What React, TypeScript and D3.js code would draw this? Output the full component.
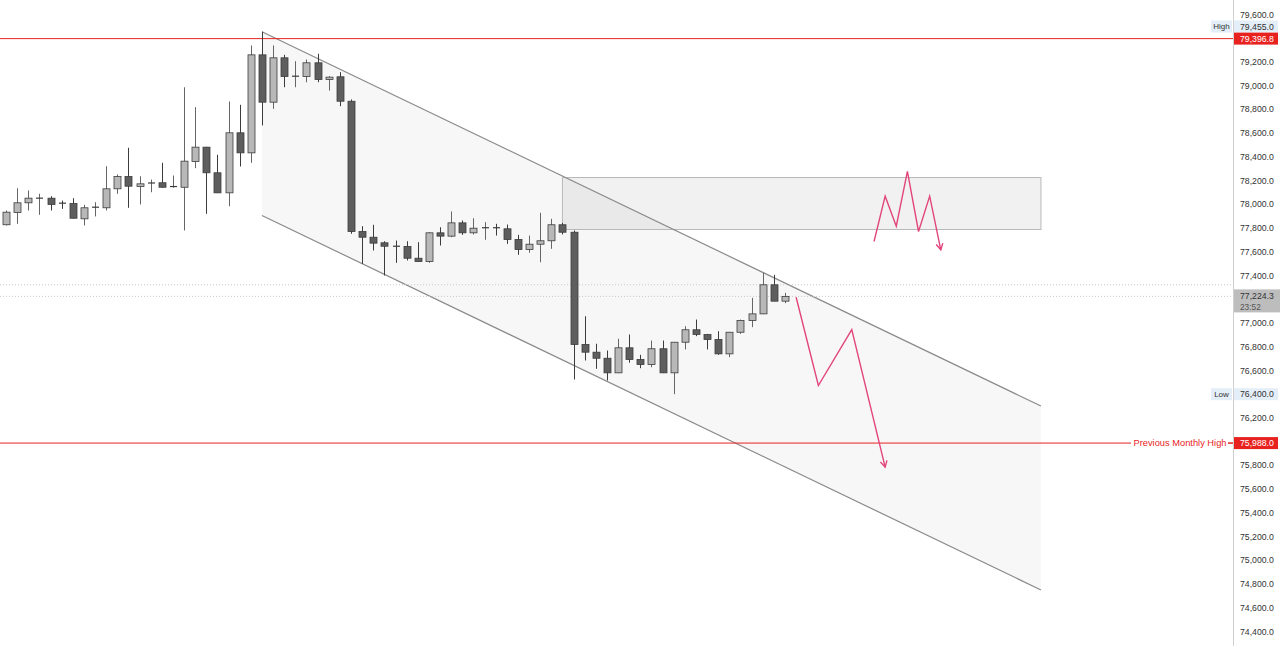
import React from "react";
import * as d3 from "d3";

const opens = [77828,77931,78013,78047,78052,78010,78007,77878,77971,77971,78131,78235,78150,78175,78182,78145,78144,78361,78482,78266,78097,78603,78434,79260,78861,79235,79077,79077,79193,79052,79075,78869,77771,77723,77676,77647,77645,77546,77518,77760,77732,77844,77760,77800,77803,77794,77704,77619,77664,77693,77828,77765,76819,76754,76703,76580,76791,76692,76650,76783,76580,76838,76943,76903,76861,76740,76922,77021,77077,77322,77184];
const highs = [77948,78136,78117,78089,78069,78032,78052,77996,78018,78321,78252,78477,78237,78209,78350,78243,78987,78819,78485,78418,78867,78839,79339,79455,79339,79260,79206,79221,79269,79080,79114,78884,77816,77828,77689,77695,77689,77681,77765,77807,77940,77864,77883,77850,77836,77830,77743,77737,77929,77878,77844,77780,77057,76825,76768,76867,76903,76732,76852,76852,76840,76973,77029,76908,76931,76925,77029,77212,77423,77406,77254];
const lows = [77822,77836,77948,77912,77948,77962,77880,77822,77898,77948,78089,77971,77999,78102,78140,78140,77780,78305,77920,78095,77984,78319,78350,78665,78805,78987,78987,79029,79029,78959,78827,77752,77499,77611,77400,77507,77527,77515,77507,77653,77723,77743,77746,77701,77737,77667,77575,77592,77512,77625,77746,76524,76684,76614,76515,76578,76665,76619,76627,76578,76400,76777,76889,76777,76732,76712,76909,76965,77075,77182,77167];
const closes = [77934,78013,78052,78052,77999,78005,77883,77971,77976,78131,78235,78153,78173,78180,78144,78150,78364,78482,78266,78097,78603,78434,79260,78861,79235,79077,79080,79193,79052,79072,78869,77771,77723,77673,77647,77645,77546,77518,77760,77732,77844,77760,77799,77803,77800,77704,77619,77664,77693,77828,77765,76819,76754,76703,76580,76791,76692,76650,76783,76580,76838,76943,76903,76861,76740,76922,77021,77077,77322,77184,77224.3];

const priceTicks = d3.range(74400, 79601, 200);
const highLevel = 79396.8;
const prevMonthlyHigh = 75988;
const currentPrice = 77224.3;
const prevClose = 77322;
const sessionHigh = 79455;
const sessionLow = 76400;

// channel: [index, price]
const channelUpper = [[23, 79455], [93, 76300]];
const channelLower = [[23, 77906], [93, 74750]];
const zone = { i0: 50, i1: 93, top: 78226, bottom: 77788 };
const pathUpper = [[78, 77687], [79, 78069], [80, 77816], [81, 78277], [82, 77771], [83, 78069], [84, 77617]];
const pathLower = [[71, 77217], [73, 76473], [76, 76945], [79, 75785]];

const fmt = (v: number) => d3.format(",.1f")(v);

export default function App() {
  const W = 1280, H = 646;
  const x = d3.scaleLinear().domain([0, 70]).range([6, 785]);
  const y = d3.scaleLinear().domain([74400, 79600]).range([631.5, 14.5]);
  const axisX = 1233;
  const font = "'Liberation Sans', Arial, sans-serif";
  const fs = 8.7;
  const pink = "#e2457c";
  const red = "#e8231f";

  const excluded = [highLevel, currentPrice, prevMonthlyHigh, sessionLow];
  const ticks = priceTicks.filter(t => excluded.every(e => Math.abs(y(t) - y(e)) > 9));

  const line = d3.line<number[]>().x(d => x(d[0])).y(d => y(d[1]));

  const channelPoly = [channelUpper[0], channelUpper[1], channelLower[1], channelLower[0]];

  const arrowHead = (pts: number[][]) => {
    const a = pts[pts.length - 2], b = pts[pts.length - 1];
    const x1 = x(a[0]), y1 = y(a[1]), x2 = x(b[0]), y2 = y(b[1]);
    const ang = Math.atan2(y2 - y1, x2 - x1);
    const L = 7, s = 0.5;
    const p1 = [x2 - L * Math.cos(ang - s), y2 - L * Math.sin(ang - s)];
    const p2 = [x2 - L * Math.cos(ang + s), y2 - L * Math.sin(ang + s)];
    return `M${p1[0]},${p1[1]}L${x2},${y2}L${p2[0]},${p2[1]}`;
  };

  const bw = 7;

  return (
    <svg width={W} height={H} style={{ position: "absolute", left: 0, top: 0, background: "#fff" }} fontFamily={font}>
      <rect x={0} y={0} width={W} height={H} fill="#fff" />
      {/* channel fill */}
      <path d={line(channelPoly as any) + "Z"} fill="rgba(0,0,0,0.032)" stroke="none" />
      {/* supply zone */}
      <rect x={x(zone.i0)} y={y(zone.top)} width={x(zone.i1) - x(zone.i0)} height={y(zone.bottom) - y(zone.top)}
        fill="rgba(0,0,0,0.055)" stroke="#b9b9b9" strokeWidth={1} />
      {/* channel lines */}
      <path d={line(channelUpper as any) || ""} stroke="#8a8a8a" strokeWidth={1.2} fill="none" />
      <path d={line(channelLower as any) || ""} stroke="#8a8a8a" strokeWidth={1.2} fill="none" />
      {/* dotted price lines */}
      <line x1={0} x2={axisX} y1={y(prevClose)} y2={y(prevClose)} stroke="#c8c8c8" strokeDasharray="1,2" />
      <line x1={0} x2={axisX} y1={y(currentPrice)} y2={y(currentPrice)} stroke="#c8c8c8" strokeDasharray="1,2" />
      {/* red level lines */}
      <line x1={0} x2={axisX} y1={y(highLevel)} y2={y(highLevel)} stroke={red} strokeWidth={1} />
      <line x1={0} x2={axisX} y1={y(prevMonthlyHigh)} y2={y(prevMonthlyHigh)} stroke={red} strokeWidth={1} />
      <rect x={1131} y={y(prevMonthlyHigh) - 6} width={97} height={12} fill="#fff" />
      <text x={1226.5} y={y(prevMonthlyHigh)} dy="0.35em" textAnchor="end" fontSize={9.3} fill={red}>Previous Monthly High</text>
      {/* candles */}
      {opens.map((o, i) => {
        const c = closes[i];
        const up = c >= o;
        const top = y(Math.max(o, c));
        const bot = y(Math.min(o, c));
        const cx = Math.round(x(i)) + 0.5;
        const h = Math.max(1, bot - top);
        return (
          <g key={i}>
            <line x1={cx} x2={cx} y1={y(highs[i])} y2={y(lows[i])} stroke={up ? "#666" : "#3c3c3c"} strokeWidth={1} />
            {h <= 1.2 ? (
              <line x1={cx - bw / 2} x2={cx + bw / 2} y1={top} y2={top} stroke="#3c3c3c" strokeWidth={1.2} />
            ) : (
              <rect x={cx - bw / 2} y={top} width={bw} height={h} fill={up ? "#b8b8b8" : "#5e5e5e"} stroke="#3c3c3c" strokeWidth={0.8} />
            )}
          </g>
        );
      })}
      {/* pink projection paths */}
      <path d={line(pathUpper as any) || ""} stroke={pink} strokeWidth={1.4} fill="none" strokeLinejoin="miter" />
      <path d={arrowHead(pathUpper)} stroke={pink} strokeWidth={1.4} fill="none" />
      <path d={line(pathLower as any) || ""} stroke={pink} strokeWidth={1.4} fill="none" strokeLinejoin="miter" />
      <path d={arrowHead(pathLower)} stroke={pink} strokeWidth={1.4} fill="none" />
      {/* axis */}
      <rect x={axisX} y={0} width={W - axisX} height={H} fill="#fff" />
      <line x1={axisX + 0.5} x2={axisX + 0.5} y1={0} y2={H} stroke="#d0d0d0" />
      {ticks.map(t => (
        <text key={t} x={1240} y={y(t)} dy="0.35em" fontSize={fs} fill="#333">{fmt(t)}</text>
      ))}
      {/* High label */}
      <rect x={1211} y={20.5} width={21} height={12} fill="#e4eef8" />
      <text x={1221.5} y={26.5} dy="0.35em" textAnchor="middle" fontSize={fs - 0.7} fill="#333">High</text>
      <rect x={1234} y={20.5} width={44} height={12} fill="#e4eef8" />
      <text x={1240} y={26.5} dy="0.35em" fontSize={fs} fill="#333">{fmt(sessionHigh)}</text>
      {/* High level red label */}
      <rect x={1234} y={y(highLevel) - 6} width={44} height={12} fill={red} />
      <text x={1240} y={y(highLevel)} dy="0.35em" fontSize={fs} fill="#fff">{fmt(highLevel)}</text>
      {/* current price */}
      <rect x={1234} y={y(currentPrice) - 7} width={46} height={23} fill="#bdbdbd" />
      <text x={1240} y={y(currentPrice)} dy="0.35em" fontSize={fs} fill="#333">{fmt(currentPrice)}</text>
      <text x={1240} y={y(currentPrice) + 10.5} dy="0.35em" fontSize={fs - 0.4} fill="#555">23:52</text>
      {/* Low label */}
      <rect x={1211} y={y(sessionLow) - 6} width={21} height={12} fill="#e4eef8" />
      <text x={1221.5} y={y(sessionLow)} dy="0.35em" textAnchor="middle" fontSize={fs - 0.7} fill="#333">Low</text>
      <rect x={1234} y={y(sessionLow) - 6} width={44} height={12} fill="#e4eef8" />
      <text x={1240} y={y(sessionLow)} dy="0.35em" fontSize={fs} fill="#333">{fmt(sessionLow)}</text>
      {/* prev monthly high label */}
      <line x1={1228} x2={axisX} y1={y(prevMonthlyHigh)} y2={y(prevMonthlyHigh)} stroke={red} />
      <rect x={1234} y={y(prevMonthlyHigh) - 6} width={44} height={12} fill={red} />
      <text x={1240} y={y(prevMonthlyHigh)} dy="0.35em" fontSize={fs} fill="#fff">{fmt(prevMonthlyHigh)}</text>
    </svg>
  );
}
